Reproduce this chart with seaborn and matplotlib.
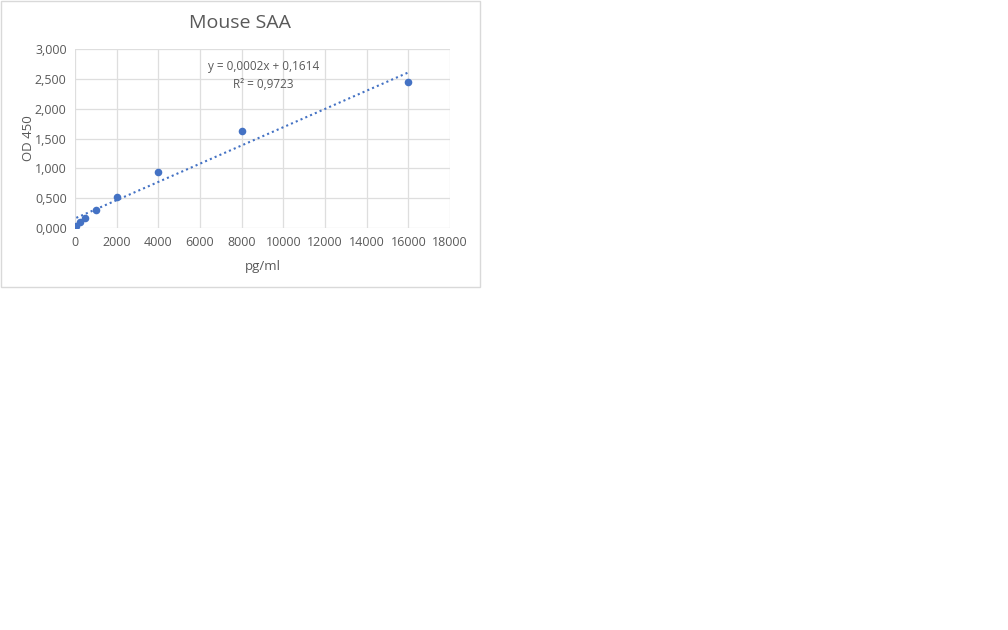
import numpy as np
import pandas as pd
import seaborn as sns
import matplotlib.pyplot as plt
from matplotlib.ticker import FuncFormatter
from matplotlib.patches import Rectangle

# standard curve readings
conc = [62.5, 250, 500, 1000, 2000, 4000, 8000, 16000]
od450 = [0.04, 0.10, 0.17, 0.31, 0.52, 0.94, 1.63, 2.44]
eq_text = "y = 0,0002x + 0,1614\nR² = 0,9723"

df = pd.DataFrame({"pg/ml": conc, "OD 450": od450})

sns.set_style("white")
plt.rcParams['font.family'] = ['Open Sans', 'DejaVu Sans']

blue = "#4472C4"
grey = "#595959"

fig = plt.figure(figsize=(10.08, 6.3), dpi=100)
# chart frame
fig.patches.append(Rectangle((0.5 / 1008, 1 - 287.5 / 630), 479 / 1008, 287 / 630,
                             transform=fig.transFigure, fill=False,
                             edgecolor="#d9d9d9", linewidth=1))

ax = fig.add_axes([75 / 1008, 1 - 228 / 630, 375 / 1008, 179 / 630])
sns.regplot(x="pg/ml", y="OD 450", data=df, ax=ax, scatter=False, ci=None,
            line_kws=dict(color=blue, linestyle=(0, (1, 1.5)), linewidth=1.5))
sns.scatterplot(x="pg/ml", y="OD 450", data=df, ax=ax, color=blue, s=30,
                edgecolor=blue, linewidth=0, zorder=3)

ax.set_xlim(0, 18000)
ax.set_ylim(0, 3)
ax.set_xticks(np.arange(0, 18001, 2000))
ax.set_yticks(np.arange(0, 3.01, 0.5))
ax.yaxis.set_major_formatter(FuncFormatter(lambda v, p: f"{v:.3f}".replace(".", ",")))
ax.grid(True, color="#dedede", linewidth=0.9)
ax.set_axisbelow(True)
for s in ax.spines.values():
    s.set_visible(False)
ax.tick_params(length=0, labelsize=9, colors=grey, pad=6)
ax.set_xlabel("pg/ml", fontsize=9.5, color=grey, labelpad=8)
ax.set_ylabel("OD 450", fontsize=9.5, color=grey, labelpad=0)

ax.text(9050, 2.56, eq_text, fontsize=8.5, color=grey, ha="center", va="center",
        linespacing=1.55)

fig.text(240 / 1008, 1 - 23 / 630, "Mouse SAA", fontsize=14, color=grey,
         ha="center", va="center")

fig.savefig("out.png", dpi=100, facecolor="white")
